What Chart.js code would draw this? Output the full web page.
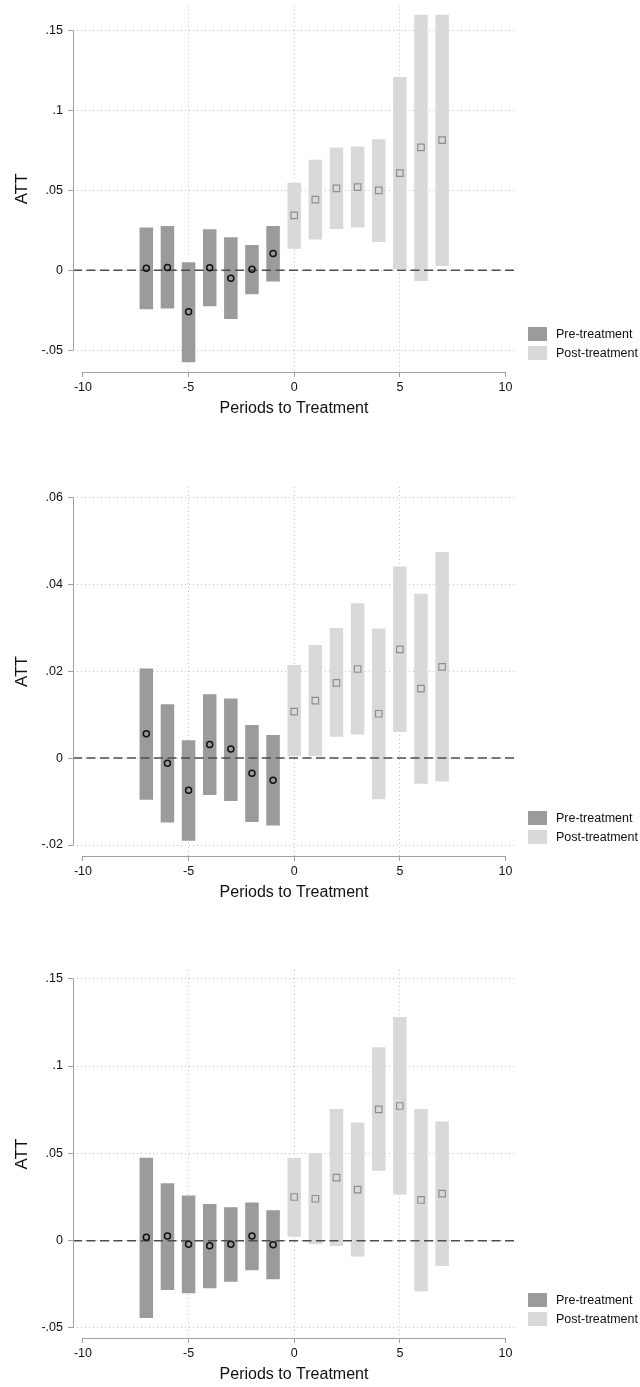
<!DOCTYPE html>
<html>
<head>
<meta charset="utf-8">
<title>Event study</title>
<script src="https://cdn.jsdelivr.net/npm/chart.js@4.4.1/dist/chart.umd.min.js"></script>
<style>
  html, body { margin: 0; padding: 0; background: #fff; }
  body { width: 640px; height: 1387px; position: relative; overflow: hidden; }
  canvas { position: absolute; left: 0; }
</style>
</head>
<body>
<canvas id="c1" width="640" height="418" style="top:0px"></canvas>
<canvas id="c2" width="640" height="432" style="top:470px"></canvas>
<canvas id="c3" width="640" height="454" style="top:930px"></canvas>
<script>
// ── DATA ─────────────────────────────────────────────────────────
const prePeriods  = [-7, -6, -5, -4, -3, -2, -1];
const postPeriods = [0, 1, 2, 3, 4, 5, 6, 7];
const xTicks = [-10, -5, 0, 5, 10];

// panel 1
const p1PreEst  = [0.0013, 0.0017, -0.0260, 0.0015, -0.0050, 0.0006, 0.0104];
const p1PreLo   = [-0.0244, -0.0240, -0.0577, -0.0225, -0.0306, -0.0150, -0.0071];
const p1PreHi   = [0.0267, 0.0277, 0.0050, 0.0256, 0.0206, 0.0158, 0.0277];
const p1PostEst = [0.0344, 0.0442, 0.0513, 0.0521, 0.0500, 0.0608, 0.0769, 0.0815];
const p1PostLo  = [0.0135, 0.0192, 0.0258, 0.0267, 0.0177, 0.0008, -0.0067, 0.0027];
const p1PostHi  = [0.0548, 0.0692, 0.0769, 0.0775, 0.0821, 0.1210, 0.1600, 0.1600];
const p1YTicks  = [-0.05, 0, 0.05, 0.1, 0.15];

// panel 2
const p2PreEst  = [0.0056, -0.0012, -0.0074, 0.0031, 0.0021, -0.0035, -0.0051];
const p2PreLo   = [-0.0096, -0.0148, -0.0190, -0.0085, -0.0099, -0.0147, -0.0155];
const p2PreHi   = [0.0206, 0.0124, 0.0041, 0.0147, 0.0137, 0.0076, 0.0053];
const p2PostEst = [0.0107, 0.0132, 0.0173, 0.0205, 0.0102, 0.0250, 0.0160, 0.0210];
const p2PostLo  = [0.0004, 0.0004, 0.0049, 0.0054, -0.0095, 0.0060, -0.0059, -0.0054];
const p2PostHi  = [0.0214, 0.0260, 0.0299, 0.0356, 0.0298, 0.0441, 0.0378, 0.0474];
const p2YTicks  = [-0.02, 0, 0.02, 0.04, 0.06];

// panel 3
const p3PreEst  = [0.0019, 0.0027, -0.0021, -0.0029, -0.0021, 0.0027, -0.0023];
const p3PreLo   = [-0.0443, -0.0282, -0.0301, -0.0273, -0.0235, -0.0170, -0.0221];
const p3PreHi   = [0.0475, 0.0329, 0.0258, 0.0210, 0.0191, 0.0218, 0.0174];
const p3PostEst = [0.0250, 0.0240, 0.0361, 0.0292, 0.0752, 0.0771, 0.0233, 0.0269];
const p3PostLo  = [0.0023, -0.0021, -0.0030, -0.0090, 0.0401, 0.0264, -0.0290, -0.0145];
const p3PostHi  = [0.0475, 0.0502, 0.0754, 0.0676, 0.1108, 0.1281, 0.0754, 0.0682];
const p3YTicks  = [-0.05, 0, 0.05, 0.1, 0.15];

// ── STYLE ────────────────────────────────────────────────────────
const X_MIN = -10.47, X_MAX = 10.45;
const FONT = "'Liberation Sans', Arial, Helvetica, sans-serif";
const PRE_COLOR  = '#9b9b9b';
const POST_COLOR = '#d9d9d9';
const GRID_COLOR = '#c4c4c4';
const AXIS_COLOR = '#a0a0a0';

Chart.defaults.font.family = FONT;
Chart.defaults.color = '#111';

const stataLabel = v => v === 0 ? '0' : String(+v.toFixed(4)).replace(/^(-?)0\./, '$1.');

// axis lines that only run between the outer ticks + the side legend
const stataAxes = {
  id: 'stataAxes',
  afterDraw(chart) {
    const { ctx, chartArea, scales: { x, y } } = chart;
    const yt = y.ticks, xt = x.ticks;
    ctx.save();
    ctx.strokeStyle = AXIS_COLOR;
    ctx.lineWidth = 1;
    ctx.beginPath();
    const lx = Math.round(chartArea.left) + 0.5;
    ctx.moveTo(lx, y.getPixelForValue(yt[yt.length - 1].value));
    ctx.lineTo(lx, y.getPixelForValue(yt[0].value));
    const by = Math.round(chartArea.bottom) + 0.5;
    ctx.moveTo(x.getPixelForValue(xt[0].value), by);
    ctx.lineTo(x.getPixelForValue(xt[xt.length - 1].value), by);
    ctx.stroke();

    // legend (bottom right, beside the plot)
    const bars = chart.data.datasets.filter(d => d.type === 'bar');
    const sx = chartArea.right + 13;
    const top = chartArea.bottom - 12 - 14 - (bars.length - 1) * 19;
    ctx.font = '12.5px ' + FONT;
    ctx.textBaseline = 'middle';
    bars.forEach((d, i) => {
      const yy = top + i * 19;
      ctx.fillStyle = d.backgroundColor;
      ctx.fillRect(sx, yy, 19, 14);
      ctx.fillStyle = '#111';
      ctx.fillText(d.label, sx + 28, yy + 7.5);
    });
    ctx.restore();
  }
};

function makePanel(id, p) {
  const preBars  = prePeriods.map((x, i) => ({ x, y: [p.preLo[i], p.preHi[i]] }));
  const postBars = postPeriods.map((x, i) => ({ x, y: [p.postLo[i], p.postHi[i]] }));
  const prePts   = prePeriods.map((x, i) => ({ x, y: p.preEst[i] }));
  const postPts  = postPeriods.map((x, i) => ({ x, y: p.postEst[i] }));

  return new Chart(document.getElementById(id), {
    type: 'bar',
    data: {
      datasets: [
        { type: 'bar', label: 'Pre-treatment', data: preBars, backgroundColor: PRE_COLOR,
          grouped: false, barPercentage: 0.64, categoryPercentage: 1, order: 3 },
        { type: 'bar', label: 'Post-treatment', data: postBars, backgroundColor: POST_COLOR,
          grouped: false, barPercentage: 0.64, categoryPercentage: 1, order: 3 },
        { type: 'line', label: 'zero', data: [{ x: X_MIN, y: 0 }, { x: X_MAX, y: 0 }],
          borderColor: '#4d4d4d', borderWidth: 1.5, borderDash: [9, 4.5], pointRadius: 0, order: 2 },
        { type: 'line', label: 'pre est', data: prePts, showLine: false,
          pointStyle: 'circle', pointRadius: 3, pointBorderWidth: 1.5,
          pointBorderColor: '#111', pointBackgroundColor: 'rgba(0,0,0,0)', order: 1 },
        { type: 'line', label: 'post est', data: postPts, showLine: false,
          pointStyle: 'rect', pointRadius: 4.6, pointBorderWidth: 1.2,
          pointBorderColor: '#8e8e8e', pointBackgroundColor: 'rgba(0,0,0,0)', order: 1 },
      ],
    },
    options: {
      responsive: false,
      animation: false,
      events: [],
      layout: { padding: { left: 9, right: 125, top: p.padTop, bottom: 0 } },
      plugins: { legend: { display: false }, tooltip: { enabled: false } },
      scales: {
        x: {
          type: 'linear', position: 'bottom', min: X_MIN, max: X_MAX, z: 1, offset: false,
          afterBuildTicks: s => { s.ticks = xTicks.map(v => ({ value: v })); },
          afterFit: s => { s.height = 46; s.paddingLeft = 0; s.paddingRight = 0; },
          grid: {
            offset: false,
            color: c => (c.index === 0 || c.index === xTicks.length - 1) ? 'rgba(0,0,0,0)' : GRID_COLOR,
            tickColor: AXIS_COLOR, tickLength: 5, tickBorderDash: [], lineWidth: 1,
          },
          border: { display: false, dash: [1, 3] },
          ticks: { font: { size: 12.5 }, padding: 3, maxRotation: 0, callback: v => String(v) },
          title: { display: true, text: 'Periods to Treatment', font: { size: 16 }, padding: { top: 0, bottom: 0 } },
        },
        y: {
          type: 'linear', min: p.yMin, max: p.yMax, z: 1,
          afterBuildTicks: s => { s.ticks = p.yTicks.map(v => ({ value: v })); },
          afterFit: s => { s.width = 64; s.paddingTop = 0; s.paddingBottom = 0; },
          grid: { color: GRID_COLOR, tickColor: AXIS_COLOR, tickLength: 5, tickBorderDash: [], lineWidth: 1 },
          border: { display: false, dash: [1, 3] },
          ticks: { font: { size: 12.5 }, padding: 5, callback: stataLabel },
          title: { display: true, text: 'ATT', font: { size: 17 }, padding: { top: 3, bottom: 3 } },
        },
      },
    },
    plugins: [stataAxes],
  });
}

// ── INIT ─────────────────────────────────────────────────────────
makePanel('c1', { preEst: p1PreEst, preLo: p1PreLo, preHi: p1PreHi,
  postEst: p1PostEst, postLo: p1PostLo, postHi: p1PostHi,
  yTicks: p1YTicks, yMin: -0.06375, yMax: 0.165625, padTop: 5 });

makePanel('c2', { preEst: p2PreEst, preLo: p2PreLo, preHi: p2PreHi,
  postEst: p2PostEst, postLo: p2PostLo, postHi: p2PostHi,
  yTicks: p2YTicks, yMin: -0.02253, yMax: 0.06237, padTop: 17 });

makePanel('c3', { preEst: p3PreEst, preLo: p3PreLo, preHi: p3PreHi,
  postEst: p3PostEst, postLo: p3PostLo, postHi: p3PostHi,
  yTicks: p3YTicks, yMin: -0.05573, yMax: 0.15498, padTop: 40 });
</script>
</body>
</html>
